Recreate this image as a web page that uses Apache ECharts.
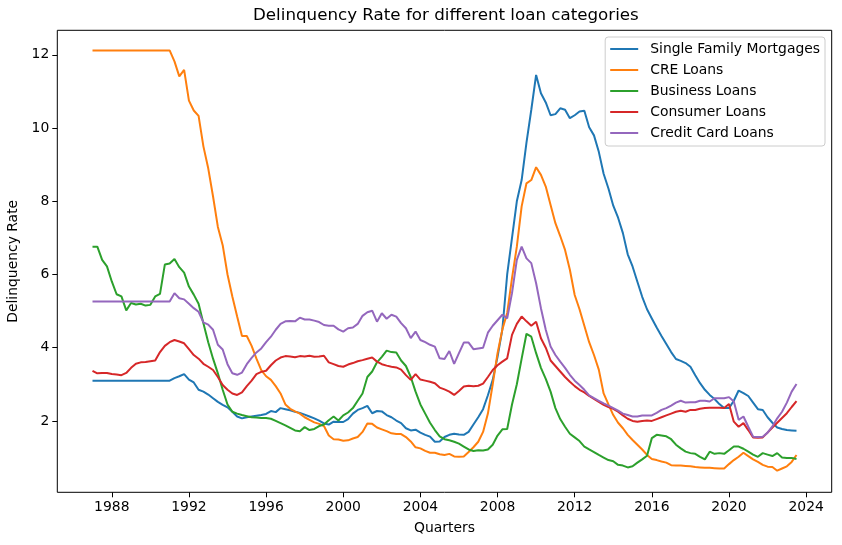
<!DOCTYPE html>
<html>
<head>
<meta charset="utf-8">
<script src="https://cdn.jsdelivr.net/npm/echarts@6/dist/echarts.min.js"></script>
<style>
html, body { margin: 0; padding: 0; background: #fff; }
#chart { width: 842px; height: 545px; }
</style>
</head>
<body>
<div id="chart"></div>
<script>
// quarterly data, first value is 1987 Q1, one row per year
var startYear = 1987;
var seriesNames = ['Single Family Mortgages', 'CRE Loans', 'Business Loans', 'Consumer Loans', 'Credit Card Loans'];
var colors = ['#1f77b4', '#ff7f0e', '#2ca02c', '#d62728', '#9467bd'];
var yearTicks = [1988, 1992, 1996, 2000, 2004, 2008, 2012, 2016, 2020, 2024];
var rateTicks = [2, 4, 6, 8, 10, 12];

var singleFamily = [
  3.10, 3.10, 3.10, 3.10,
  3.10, 3.10, 3.10, 3.10,
  3.10, 3.10, 3.10, 3.10,
  3.10, 3.10, 3.10, 3.10,
  3.10, 3.17, 3.22, 3.28,
  3.13, 3.05, 2.85, 2.80,
  2.72, 2.62, 2.52, 2.44,
  2.37, 2.25, 2.12, 2.07,
  2.10, 2.12, 2.14, 2.16,
  2.19, 2.27, 2.24, 2.35,
  2.32, 2.29, 2.25, 2.22,
  2.17, 2.12, 2.07, 2.01,
  1.93, 1.90, 1.98, 1.97,
  1.97, 2.05, 2.20, 2.30,
  2.35, 2.41, 2.21, 2.27,
  2.26, 2.16, 2.10, 2.01,
  1.94, 1.80, 1.74, 1.76,
  1.68, 1.62, 1.57, 1.43,
  1.44, 1.56, 1.62, 1.65,
  1.63, 1.62, 1.70, 1.90,
  2.10, 2.32, 2.70, 3.12,
  3.75, 4.50, 6.00, 7.00,
  8.00, 8.58, 9.60, 10.50,
  11.45, 10.95, 10.70, 10.35,
  10.38, 10.54, 10.50, 10.27,
  10.35, 10.45, 10.47, 10.02,
  9.80, 9.35, 8.75, 8.35,
  7.88, 7.55, 7.13, 6.55,
  6.22, 5.80, 5.39, 5.05,
  4.80, 4.55, 4.32, 4.10,
  3.88, 3.69, 3.64, 3.58,
  3.48, 3.25, 3.03, 2.85,
  2.71, 2.60, 2.46, 2.35,
  2.35, 2.55, 2.83, 2.76,
  2.68, 2.50, 2.32, 2.30,
  2.10, 1.95, 1.82, 1.78,
  1.75, 1.74, 1.73
];

var creLoans = [
  12.12, 12.12, 12.12, 12.12,
  12.12, 12.12, 12.12, 12.12,
  12.12, 12.12, 12.12, 12.12,
  12.12, 12.12, 12.12, 12.12,
  12.12, 11.82, 11.41, 11.59,
  10.75, 10.48, 10.33, 9.50,
  8.90, 8.13, 7.30, 6.80,
  6.00, 5.40, 4.85, 4.32,
  4.32, 4.05, 3.70, 3.39,
  3.22, 3.12, 2.95, 2.75,
  2.45, 2.33, 2.26, 2.20,
  2.10, 2.03, 1.96, 1.92,
  1.86, 1.60, 1.50, 1.49,
  1.46, 1.47, 1.52, 1.56,
  1.70, 1.93, 1.92, 1.82,
  1.77, 1.72, 1.66, 1.64,
  1.64, 1.56, 1.44, 1.28,
  1.25, 1.18, 1.13, 1.13,
  1.09, 1.07, 1.10, 1.03,
  1.02, 1.03, 1.15, 1.28,
  1.43, 1.70, 2.20, 3.00,
  3.85, 4.50, 4.95, 5.90,
  6.76, 7.86, 8.49, 8.58,
  8.93, 8.72, 8.40, 7.90,
  7.40, 7.05, 6.67, 6.13,
  5.44, 5.05, 4.60, 4.15,
  3.80, 3.40, 2.75, 2.45,
  2.16, 1.95, 1.80, 1.62,
  1.48, 1.35, 1.22, 1.07,
  0.96, 0.93, 0.89, 0.86,
  0.79, 0.78, 0.78, 0.77,
  0.76, 0.74, 0.73, 0.72,
  0.72, 0.71, 0.70, 0.70,
  0.82, 0.93, 1.02, 1.13,
  1.04, 0.95, 0.88, 0.80,
  0.75, 0.74, 0.64, 0.70,
  0.76, 0.88, 1.07
];

var businessLoans = [
  6.76, 6.76, 6.40, 6.22,
  5.81, 5.46, 5.40, 5.02,
  5.22, 5.18, 5.20, 5.15,
  5.17, 5.40, 5.47, 6.27,
  6.30, 6.42, 6.20, 6.05,
  5.67, 5.45, 5.20, 4.67,
  4.15, 3.70, 3.30, 2.85,
  2.45, 2.25, 2.20, 2.16,
  2.13, 2.10, 2.09, 2.08,
  2.08, 2.06, 2.00, 1.94,
  1.88, 1.81, 1.74, 1.72,
  1.83, 1.75, 1.78, 1.86,
  1.90, 2.02, 2.12, 2.01,
  2.15, 2.23, 2.35, 2.55,
  2.75, 3.20, 3.35, 3.60,
  3.75, 3.92, 3.88, 3.87,
  3.65, 3.50, 3.20, 2.80,
  2.45, 2.20, 1.95, 1.75,
  1.58, 1.50, 1.47, 1.43,
  1.38, 1.30, 1.22, 1.18,
  1.20, 1.19, 1.22, 1.35,
  1.60, 1.77, 1.78, 2.45,
  3.00, 3.70, 4.38, 4.30,
  3.85, 3.45, 3.15, 2.80,
  2.35, 2.05, 1.84, 1.65,
  1.55, 1.45, 1.30, 1.22,
  1.15, 1.07, 1.00, 0.93,
  0.90, 0.80, 0.78, 0.73,
  0.76, 0.86, 0.95, 1.05,
  1.53, 1.62, 1.60, 1.58,
  1.50, 1.35, 1.25, 1.16,
  1.12, 1.10, 1.02, 0.95,
  1.16, 1.10, 1.12, 1.10,
  1.20, 1.30, 1.30, 1.24,
  1.16, 1.08, 1.02, 1.12,
  1.08, 1.04, 1.12, 1.00,
  0.99, 0.99, 0.96
];

var consumerLoans = [
  3.37, 3.30, 3.31, 3.31,
  3.28, 3.27, 3.25, 3.31,
  3.45, 3.56, 3.60, 3.61,
  3.63, 3.65, 3.88, 4.05,
  4.15, 4.21, 4.17, 4.12,
  3.96, 3.80, 3.70, 3.56,
  3.48, 3.39, 3.20, 2.98,
  2.85, 2.75, 2.71, 2.78,
  2.95, 3.10, 3.28, 3.34,
  3.37, 3.52, 3.65, 3.73,
  3.77, 3.76, 3.74, 3.77,
  3.76, 3.78, 3.75, 3.76,
  3.78, 3.60, 3.55, 3.50,
  3.48, 3.54, 3.58, 3.63,
  3.66, 3.70, 3.73, 3.62,
  3.55, 3.51, 3.48, 3.46,
  3.40, 3.25, 3.12, 3.28,
  3.13, 3.10, 3.07, 3.03,
  2.91, 2.86, 2.80, 2.71,
  2.82, 2.94, 2.96, 2.95,
  2.96, 3.02, 3.20, 3.39,
  3.52, 3.62, 3.71, 4.35,
  4.65, 4.85, 4.72, 4.60,
  4.71, 4.26, 4.00, 3.65,
  3.50, 3.35, 3.20, 3.07,
  2.95, 2.85, 2.78, 2.68,
  2.60, 2.52, 2.44, 2.38,
  2.33, 2.25, 2.15, 2.06,
  2.00, 1.98, 2.00, 2.01,
  2.00, 2.05, 2.10, 2.15,
  2.20, 2.25, 2.28, 2.25,
  2.30, 2.30, 2.33, 2.35,
  2.36, 2.36, 2.36, 2.35,
  2.46, 1.98, 1.84, 1.94,
  1.75, 1.55, 1.54, 1.55,
  1.68, 1.82, 1.95, 2.08,
  2.21, 2.38, 2.54
];

var creditCardLoans = [
  5.26, 5.26, 5.26, 5.26,
  5.26, 5.26, 5.26, 5.26,
  5.26, 5.26, 5.26, 5.26,
  5.26, 5.26, 5.26, 5.26,
  5.26, 5.49, 5.35, 5.32,
  5.20, 5.08, 4.98, 4.69,
  4.63, 4.49, 4.08, 3.95,
  3.55, 3.30, 3.26, 3.32,
  3.55, 3.72, 3.87, 3.98,
  4.15, 4.30, 4.49, 4.65,
  4.72, 4.73, 4.72, 4.82,
  4.77, 4.77, 4.74, 4.70,
  4.62, 4.60, 4.60, 4.50,
  4.44, 4.53, 4.55, 4.65,
  4.87, 4.97, 5.01, 4.71,
  4.94, 4.79, 4.90, 4.85,
  4.67, 4.53, 4.26, 4.44,
  4.21, 4.15, 4.08, 4.03,
  3.71, 3.69, 3.91, 3.56,
  3.85, 4.14, 4.14, 3.96,
  3.98, 4.00, 4.41, 4.60,
  4.75, 4.90, 4.80, 5.49,
  6.40, 6.76, 6.44, 6.31,
  5.76, 5.08, 4.49, 4.03,
  3.80, 3.62, 3.45, 3.26,
  3.10, 2.98, 2.85, 2.70,
  2.62, 2.55, 2.48, 2.42,
  2.35, 2.28, 2.20, 2.16,
  2.12, 2.12, 2.15, 2.15,
  2.15, 2.22, 2.30, 2.35,
  2.42, 2.50, 2.55, 2.50,
  2.51, 2.51, 2.55, 2.55,
  2.53, 2.62, 2.62, 2.62,
  2.65, 2.53, 2.03, 2.12,
  1.84, 1.57, 1.56, 1.57,
  1.68, 1.85, 2.07, 2.25,
  2.50, 2.80, 3.01
];

var allValues = [singleFamily, creLoans, businessLoans, consumerLoans, creditCardLoans];

function toPoints(values) {
  return values.map(function (v, i) {
    return [startYear + i / 4, v];
  });
}

var font = 'DejaVu Sans';
var myChart = echarts.init(document.getElementById('chart'), null, { renderer: 'canvas' });

var series = allValues.map(function (vals, k) {
  return {
    name: seriesNames[k],
    type: 'line',
    symbol: 'none',
    smooth: false,
    lineStyle: { color: colors[k], width: 2 },
    itemStyle: { color: colors[k] },
    data: toPoints(vals)
  };
});

var option = {
  animation: false,
  backgroundColor: '#fff',
  title: {
    text: 'Delinquency Rate for different loan categories',
    left: 253,
    top: 7,
    padding: 0,
    textStyle: { fontFamily: font, fontSize: 16.7, fontWeight: 'normal', color: '#000' }
  },
  legend: {
    data: seriesNames,
    orient: 'vertical',
    right: 17,
    top: 37,
    icon: 'rect',
    itemWidth: 28,
    itemHeight: 2,
    itemGap: 7,
    padding: [5, 5, 6, 5],
    borderColor: '#cccccc',
    borderWidth: 1,
    borderRadius: 3,
    backgroundColor: 'rgba(255,255,255,0.8)',
    selectedMode: false,
    textStyle: { fontFamily: font, fontSize: 13.9, lineHeight: 14, color: '#000', padding: [0, 0, 0, 7] }
  },
  grid: {
    left: 57.3,
    right: 10.3,
    top: 30.3,
    bottom: 52.7,
    show: true,
    borderColor: '#000',
    borderWidth: 1,
    containLabel: false,
    outerBoundsMode: 'none'
  },
  xAxis: {
    type: 'value',
    min: 1985.175,
    max: 2025.325,
    name: 'Quarters',
    nameLocation: 'middle',
    nameGap: 29,
    nameTextStyle: { fontFamily: font, fontSize: 13.9, color: '#000' },
    axisLine: { show: false },
    axisTick: { show: true, length: 5, lineStyle: { color: '#000' }, customValues: yearTicks },
    axisLabel: {
      fontFamily: font, fontSize: 13.9, color: '#000', margin: 8,
      customValues: yearTicks,
      formatter: function (v) { return String(v); }
    },
    splitLine: { show: false }
  },
  yAxis: {
    type: 'value',
    min: 0.05,
    max: 12.67,
    name: 'Delinquency Rate',
    nameLocation: 'middle',
    nameGap: 36,
    nameRotate: 90,
    nameTextStyle: { fontFamily: font, fontSize: 13.9, color: '#000' },
    axisLine: { show: false },
    axisTick: { show: true, length: 5, lineStyle: { color: '#000' }, customValues: rateTicks },
    axisLabel: {
      fontFamily: font, fontSize: 13.9, color: '#000', margin: 8,
      customValues: rateTicks,
      formatter: function (v) { return String(v); }
    },
    splitLine: { show: false }
  },
  series: series
};

myChart.setOption(option);
</script>
</body>
</html>
